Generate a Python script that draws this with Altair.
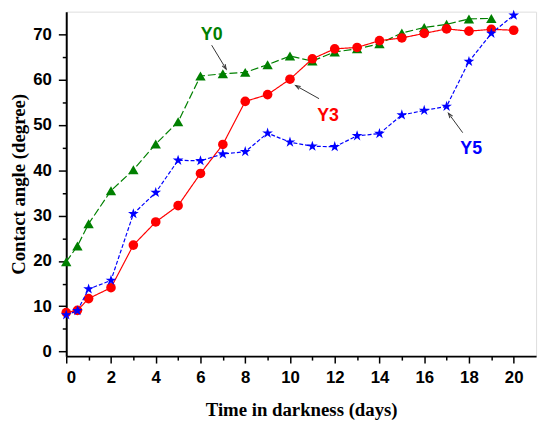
import math
import altair as alt
import pandas as pd

# ---------------- data ----------------
y0_x = [0, 0.5, 1, 2, 3, 4, 5, 6, 7, 8, 9, 10, 11, 12, 13, 14, 15, 16, 17, 18, 19]
y0_v = [19.8, 23.3, 28.2, 35.5, 40.1, 45.8, 50.7, 60.8, 61.3, 61.6, 63.3, 65.2, 64.1, 66.1, 66.8, 67.9, 70.3, 71.5, 72.2, 73.4, 73.5]

y3_x = [0, 0.5, 1, 2, 3, 4, 5, 6, 7, 8, 9, 10, 11, 12, 13, 14, 15, 16, 17, 18, 19, 20]
y3_v = [8.6, 9.1, 11.7, 14.1, 23.5, 28.6, 32.2, 39.3, 45.7, 55.2, 56.7, 60.1, 64.6, 66.8, 67.1, 68.6, 69.2, 70.2, 71.2, 70.7, 71.1, 70.9]

y5_x = [0, 0.5, 1, 2, 3, 4, 5, 6, 7, 8, 9, 10, 11, 12, 13, 14, 15, 16, 17, 18, 19, 20]
y5_v = [8.1, 9.0, 13.8, 15.7, 30.4, 35.1, 42.2, 42.1, 43.6, 44.1, 48.2, 46.2, 45.3, 45.2, 47.6, 48.1, 52.2, 53.2, 54.1, 64.0, 70.2, 74.2]

labels = ["Y0", "Y3", "Y5"]
label_x = [6.5, 11.7, 18.1]
label_y = [69.9, 52.0, 44.6]
arrow_x1 = [6.5, 11.3, 17.72]
arrow_y1 = [67.6, 55.8, 48.3]
arrow_x2 = [7.15, 10.25, 17.08]
arrow_y2 = [62.3, 58.7, 52.6]

x_major = [0, 2, 4, 6, 8, 10, 12, 14, 16, 18, 20]
x_minor = [1, 3, 5, 7, 9, 11, 13, 15, 17, 19]
y_major = [0, 10, 20, 30, 40, 50, 60, 70]
y_minor = [5, 15, 25, 35, 45, 55, 65]

# ---------------- layout ----------------
W, H = 476, 349
XDOM = [0, 21]
YDOM = [-1, 75]
GREEN, RED, BLUE = "#008000", "#ff0000", "#0000ff"
STAR = ("M0,-1L0.2245,-0.309L0.951,-0.309L0.363,0.118L0.588,0.809L0,0.382"
        "L-0.588,0.809L-0.363,0.118L-0.951,-0.309L-0.2245,-0.309Z")

xs = alt.Scale(domain=XDOM, nice=False, zero=False)
ys = alt.Scale(domain=YDOM, nice=False, zero=False)

x_axis = alt.Axis(values=x_major, format="d", title="Time in darkness (days)",
                  tickSize=7, tickWidth=1.5, tickColor="black", domainColor="black",
                  domainWidth=2, labelFont="Liberation Sans", labelFontWeight="bold",
                  labelFontSize=17, labelColor="black", labelPadding=7,
                  titleFont="Liberation Serif", titleFontWeight="bold", titleFontSize=19,
                  titleColor="black", titlePadding=15, grid=False, orient="bottom")
y_axis = alt.Axis(values=y_major, format="d", title="Contact angle (degree)",
                  tickSize=8, tickWidth=1.5, tickColor="black", domainColor="black",
                  domainWidth=2, labelFont="Liberation Sans", labelFontWeight="bold",
                  labelFontSize=17, labelColor="black", labelPadding=7,
                  titleFont="Liberation Serif", titleFontWeight="bold", titleFontSize=19,
                  titleColor="black", titlePadding=4, grid=False, orient="left")
x_axis_minor = alt.Axis(values=x_minor, labels=False, title=None, tickSize=4, tickWidth=1.5,
                        tickColor="black", domain=False, grid=False, orient="bottom")
y_axis_minor = alt.Axis(values=y_minor, labels=False, title=None, tickSize=4, tickWidth=1.5,
                        tickColor="black", domain=False, grid=False, orient="left")

dummy = pd.DataFrame({"x": [0.0], "y": [0.0]})
main_ax = alt.Chart(dummy).mark_point(opacity=0).encode(
    x=alt.X("x:Q", scale=xs, axis=x_axis), y=alt.Y("y:Q", scale=ys, axis=y_axis))
minor_ax = alt.Chart(dummy).mark_point(opacity=0).encode(
    x=alt.X("x:Q", scale=xs, axis=x_axis_minor), y=alt.Y("y:Q", scale=ys, axis=y_axis_minor))


def enc(xf="x", yf="y"):
    return dict(x=alt.X(f"{xf}:Q", scale=xs, axis=None), y=alt.Y(f"{yf}:Q", scale=ys, axis=None))


def series(xv, yv, color, dash, shape, size):
    df = pd.DataFrame({"x": xv, "y": yv})
    line = alt.Chart(df).mark_line(color=color, strokeWidth=1.2, strokeDash=dash).encode(**enc())
    pts = alt.Chart(df).mark_point(shape=shape, filled=True, color=color, size=size,
                                   opacity=1).encode(**enc())
    return [line, pts]


layers = [main_ax, minor_ax]
layers += series(y0_x, y0_v, GREEN, [8, 3], "triangle-up", 110)
layers += series(y3_x, y3_v, RED, [1, 0], "circle", 95)
layers += series(y5_x, y5_v, BLUE, [4, 2], STAR, 130)

# annotations
ppx = W / (XDOM[1] - XDOM[0])
ppy = H / (YDOM[1] - YDOM[0])
angles = []
for a, b, c, d in zip(arrow_x1, arrow_y1, arrow_x2, arrow_y2):
    dx = (c - a) * ppx
    dy = -(d - b) * ppy
    angles.append(math.degrees(math.atan2(dx, -dy)) % 360)

ann = pd.DataFrame({"label": labels, "lx": label_x, "ly": label_y,
                    "x1": arrow_x1, "y1": arrow_y1, "x2": arrow_x2, "y2": arrow_y2,
                    "ang": angles, "color": [GREEN, RED, BLUE]})

texts = alt.Chart(ann).mark_text(font="Liberation Sans", fontWeight="bold", fontSize=18,
                                 align="center", baseline="middle").encode(
    text="label:N", color=alt.Color("color:N", scale=None), **enc("lx", "ly"))
rules = alt.Chart(ann).mark_rule(color="#333333", strokeWidth=1).encode(
    x2="x2:Q", y2="y2:Q", **enc("x1", "y1"))
heads = alt.Chart(ann).mark_point(shape="M-0.5,1.4L0,0L0.5,1.4", filled=False,
                                  color="#333333", strokeWidth=1, size=50, opacity=1).encode(
    angle=alt.Angle("ang:Q", scale=None), **enc("x2", "y2"))
layers += [rules, heads, texts]

chart = alt.layer(*layers).resolve_axis(
    x="independent", y="independent"
).properties(
    width=W, height=H,
    autosize=alt.AutoSizeParams(type="none"),
    padding={"left": 59, "top": 1, "right": 6, "bottom": 62},
).configure_view(stroke="#333333", strokeWidth=1.5).configure(background="white")

chart.save("out.html", embed_options={"renderer": "svg", "actions": False})
